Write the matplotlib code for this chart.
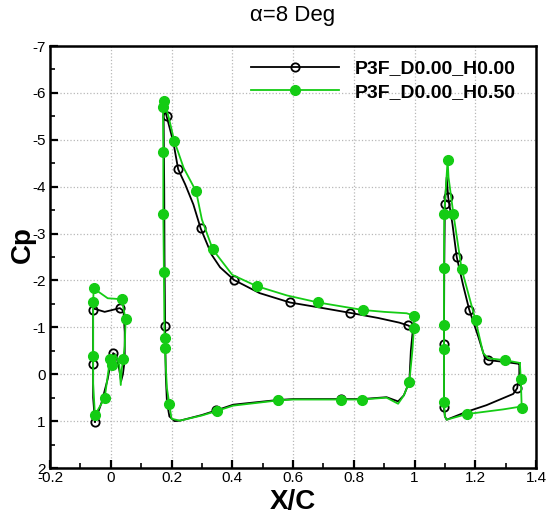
import numpy as np
import matplotlib
matplotlib.use("Agg")
import matplotlib.pyplot as plt
from matplotlib.ticker import MultipleLocator

plt.rcParams['font.family'] = ['Liberation Sans', 'DejaVu Sans']
plt.rcParams['axes.unicode_minus'] = False

# ---- H0.00 (black) : slat, main, flap ----
slat_x_h0 = [-0.052, -0.058, -0.058, -0.058, -0.056, -0.02, 0.03, 0.042, 0.046, 0.046, 0.040, 0.034, 0.028, 0.018, 0.008, 0.0, -0.01, -0.03, -0.052]
slat_cp_h0 = [1.01, 0.5, -0.21, -1.37, -1.40, -1.33, -1.41, -1.35, -0.9, -0.3, 0.0, 0.15, -0.1, -0.40, -0.45, -0.25, 0.1, 0.6, 1.01]
slat_mk_h0 = [0, 2, 3, 6, 14]

main_x_h0 = [0.995, 0.979, 0.95, 0.88, 0.787, 0.69, 0.59, 0.49, 0.406, 0.36, 0.332, 0.296, 0.272, 0.245, 0.222, 0.206, 0.184, 0.176,
             0.174, 0.176, 0.177, 0.179, 0.181, 0.185, 0.193, 0.21, 0.228,
             0.30, 0.348, 0.403, 0.549, 0.60, 0.758, 0.826, 0.908, 0.946, 0.965, 0.983, 0.988, 0.995]
main_cp_h0 = [-0.98, -1.04, -1.10, -1.20, -1.31, -1.42, -1.53, -1.73, -2.01, -2.28, -2.55, -3.11, -3.62, -4.05, -4.37, -4.95, -5.50, -5.70,
              -5.50, -4.0, -2.5, -1.02, 0.0, 0.6, 0.9, 1.0, 0.99,
              0.87, 0.77, 0.65, 0.55, 0.53, 0.53, 0.53, 0.49, 0.58, 0.45, 0.16, -0.5, -0.98]
main_mk_h0 = [1, 4, 6, 8, 11, 14, 16, 21, 28, 30, 32, 37]

flap_x_h0 = [1.345, 1.30, 1.243, 1.232, 1.21, 1.18, 1.16, 1.139, 1.125, 1.111, 1.106,
             1.100, 1.098, 1.097, 1.097, 1.100, 1.106, 1.172, 1.237, 1.292, 1.325, 1.338, 1.345, 1.345]
flap_cp_h0 = [-0.22, -0.26, -0.30, -0.34, -0.80, -1.38, -1.90, -2.50, -3.20, -3.77, -4.20,
              -3.64, -2.27, -0.64, 0.70, 0.90, 0.97, 0.80, 0.66, 0.51, 0.42, 0.30, 0.0, -0.22]
flap_mk_h0 = [2, 5, 7, 9, 11, 12, 13, 14, 21]

# ---- H0.50 (green) : slat, main, flap ----
slat_x_h5 = [-0.052, -0.058, -0.058, -0.058, -0.056, -0.01, 0.036, 0.049, 0.046, 0.041, 0.036, 0.033, 0.028, 0.015, 0.003, -0.0025, -0.02, -0.052]
slat_cp_h5 = [0.87, 0.2, -0.39, -1.55, -1.83, -1.62, -1.60, -1.17, -0.6, -0.32, -0.1, 0.23, -0.2, -0.42, -0.20, -0.32, 0.51, 0.87]
slat_mk_h5 = [0, 2, 3, 4, 6, 7, 9, 14, 15, 16]

main_x_h5 = [0.998, 0.974, 0.90, 0.83, 0.683, 0.58, 0.48, 0.40, 0.336, 0.30, 0.281, 0.24, 0.209, 0.19, 0.174,
             0.172, 0.173, 0.173, 0.175, 0.177, 0.178, 0.185, 0.193, 0.20, 0.228,
             0.30, 0.351, 0.403, 0.549, 0.60, 0.758, 0.826, 0.908, 0.946, 0.965, 0.983, 0.993, 0.998, 0.998]
main_cp_h5 = [-1.25, -1.30, -1.33, -1.37, -1.53, -1.68, -1.88, -2.12, -2.66, -3.30, -3.90, -4.40, -4.98, -5.50, -5.83,
              -5.69, -4.73, -3.42, -2.18, -0.78, -0.55, 0.30, 0.64, 0.95, 0.99,
              0.88, 0.78, 0.67, 0.56, 0.54, 0.54, 0.54, 0.50, 0.63, 0.45, 0.16, -0.5, -0.98, -1.25]
main_mk_h5 = [0, 3, 4, 6, 8, 10, 12, 14, 15, 16, 17, 18, 19, 20, 22, 26, 28, 30, 31, 35, 37]

flap_x_h5 = [1.347, 1.298, 1.243, 1.226, 1.201, 1.155, 1.128, 1.112, 1.109,
             1.098, 1.097, 1.097, 1.097, 1.097, 1.100, 1.106, 1.172, 1.292, 1.350, 1.353, 1.350, 1.347]
flap_cp_h5 = [-0.24, -0.30, -0.34, -0.45, -1.15, -2.25, -3.42, -4.20, -4.57,
              -3.42, -2.27, -1.06, -0.53, 0.59, 0.90, 0.97, 0.85, 0.75, 0.69, 0.72, 0.11, -0.24]
flap_mk_h5 = [1, 4, 5, 6, 8, 9, 10, 11, 12, 13, 16, 19, 20]

xtick_vals = [-0.2, 0, 0.2, 0.4, 0.6, 0.8, 1, 1.2, 1.4]
xtick_labels = ["-0.2", "0", "0.2", "0.4", "0.6", "0.8", "1", "1.2", "1.4"]
ytick_vals = list(range(-7, 3))

green = "#14cc14"

fig = plt.figure(figsize=(5.46, 5.14), dpi=100)
ax = fig.add_axes([50 / 546, 1 - 468 / 514, 486 / 546, 422 / 514])

black_sets = [(slat_x_h0, slat_cp_h0, slat_mk_h0), (main_x_h0, main_cp_h0, main_mk_h0), (flap_x_h0, flap_cp_h0, flap_mk_h0)]
green_sets = [(slat_x_h5, slat_cp_h5, slat_mk_h5), (main_x_h5, main_cp_h5, main_mk_h5), (flap_x_h5, flap_cp_h5, flap_mk_h5)]

for i, (xs, cps, mk) in enumerate(black_sets):
    ax.plot(xs, cps, color="black", lw=1.3, marker="o", ms=6, mfc="none", mec="black", mew=1.3,
            markevery=mk, label="P3F_D0.00_H0.00" if i == 0 else None, zorder=3)
for i, (xs, cps, mk) in enumerate(green_sets):
    ax.plot(xs, cps, color=green, lw=1.3, marker="o", ms=7, mfc=green, mec=green,
            markevery=mk, label="P3F_D0.00_H0.50" if i == 0 else None, zorder=4)

ax.set_xlim(-0.2, 1.4)
ax.set_ylim(2, -7)
ax.set_xticks(xtick_vals)
ax.set_xticklabels(xtick_labels)
ax.set_yticks(ytick_vals)
ax.xaxis.set_minor_locator(MultipleLocator(0.1))
ax.yaxis.set_minor_locator(MultipleLocator(0.5))
ax.tick_params(which="major", direction="in", length=6, width=1.6, labelsize=11, top=False, right=False)
ax.tick_params(which="minor", direction="in", length=3.5, width=1.2, top=False, right=False)
ax.tick_params(axis="x", pad=2)
ax.tick_params(axis="y", pad=3)
ax.grid(True, which="major", linestyle=":", color="#b8b8b8", lw=0.9)
for s in ax.spines.values():
    s.set_linewidth(1.8)

ax.set_xlabel("X/C", fontsize=20, fontweight="bold")
ax.xaxis.set_label_coords(0.5, -0.05)
ax.set_ylabel("Cp", fontsize=20, fontweight="bold")
ax.yaxis.set_label_coords(-0.03, 0.53)
ax.set_title("α=8 Deg", fontsize=16, pad=18)

ax.legend(loc="upper left", bbox_to_anchor=(0.4136, 0.967), frameon=False,
          prop={"weight": "bold", "size": 14}, handlelength=4.5, handletextpad=0.85,
          labelspacing=0.3, borderpad=0, borderaxespad=0)

fig.savefig("out.png", dpi=100)
